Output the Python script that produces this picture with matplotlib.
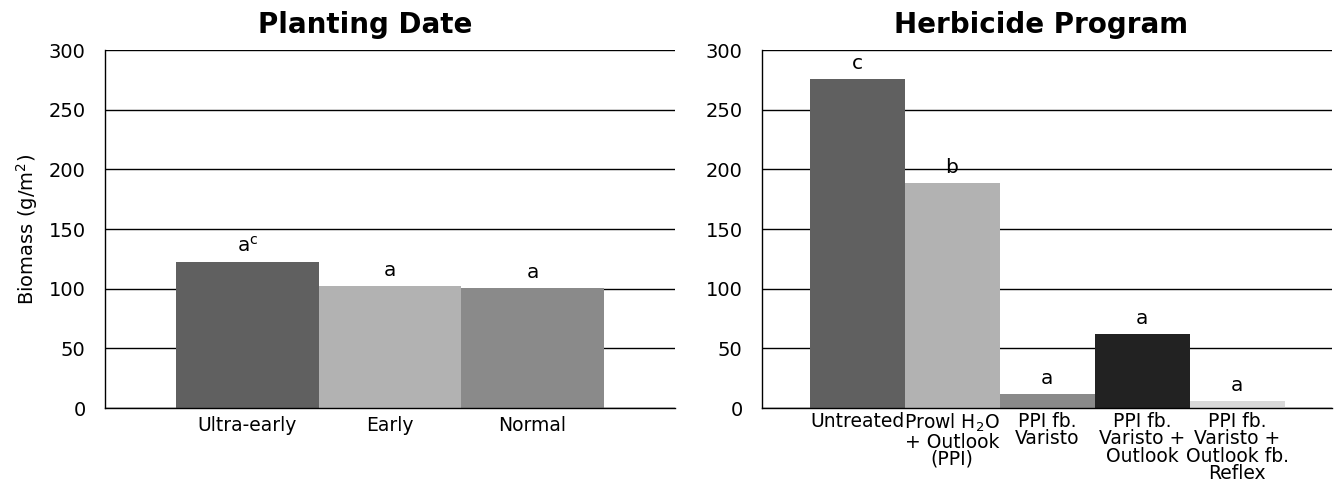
import numpy as np
import matplotlib.pyplot as plt

plt.rcParams['font.family'] = ['DejaVu Sans']
plt.rcParams['mathtext.fontset'] = 'dejavusans'

# Data
plantingLabels = ['Ultra-early', 'Early', 'Normal']
plantingBiomass = [122.2, 102.4, 100.7]
plantingLetters = ['a$^{\\mathrm{c}}$', 'a', 'a']
plantingColors = ['#606060', '#b2b2b2', '#8a8a8a']

herbLabels = ['Untreated', 'Prowl H$_2$O\n+ Outlook\n(PPI)', 'PPI fb.\nVaristo',
              'PPI fb.\nVaristo +\nOutlook', 'PPI fb.\nVaristo +\nOutlook fb.\nReflex']
herbBiomass = [275.4, 188.7, 11.7, 62.0, 6.0]
herbLetters = ['c', 'b', 'a', 'a', 'a']
herbColors = ['#606060', '#b2b2b2', '#8a8a8a', '#222222', '#d9d9d9']

fig = plt.figure(figsize=(13.39, 4.87), dpi=100)
axLeft = fig.add_axes([0.0784, 0.1622, 0.4257, 0.7351])
axRight = fig.add_axes([0.5691, 0.1622, 0.4257, 0.7351])


def drawPanel(ax, labels, values, letters, colors, title, xlim, titleX):
    x = np.arange(len(values))
    ax.bar(x, values, width=1.0, color=colors, zorder=3)
    for xi, v, s in zip(x, values, letters):
        ax.annotate(s, (xi, v), xytext=(0, 4.5), textcoords='offset points',
                    ha='center', va='bottom', fontsize=14.5)
    ax.set_ylim(0, 300)
    ax.set_xlim(*xlim)
    ax.set_yticks(np.arange(0, 301, 50))
    ax.set_xticks(x)
    ax.set_xticklabels(labels, fontsize=13.5, linespacing=0.88)
    ax.tick_params(axis='y', length=0, pad=14, labelsize=14)
    ax.tick_params(axis='x', length=0, pad=6)
    ax.grid(axis='y', color='black', linewidth=1.0, zorder=0)
    ax.set_axisbelow(True)
    for side in ['top', 'right']:
        ax.spines[side].set_visible(False)
    for side in ['left', 'bottom']:
        ax.spines[side].set_color('black')
        ax.spines[side].set_linewidth(1.0)
        ax.spines[side].set_zorder(4)
    ax.set_title(title, fontsize=20, fontweight='bold', pad=12.5, x=titleX)


drawPanel(axLeft, plantingLabels, plantingBiomass, plantingLetters, plantingColors,
          'Planting Date', (-1.0, 3.0), 0.456)
drawPanel(axRight, herbLabels, herbBiomass, herbLetters, herbColors,
          'Herbicide Program', (-1.0, 5.0), 0.489)
axLeft.set_ylabel('Biomass (g/m$^2$)', fontsize=14, labelpad=6)
axRight.tick_params(axis='x', pad=3)

plt.savefig('out.png', dpi=100)
